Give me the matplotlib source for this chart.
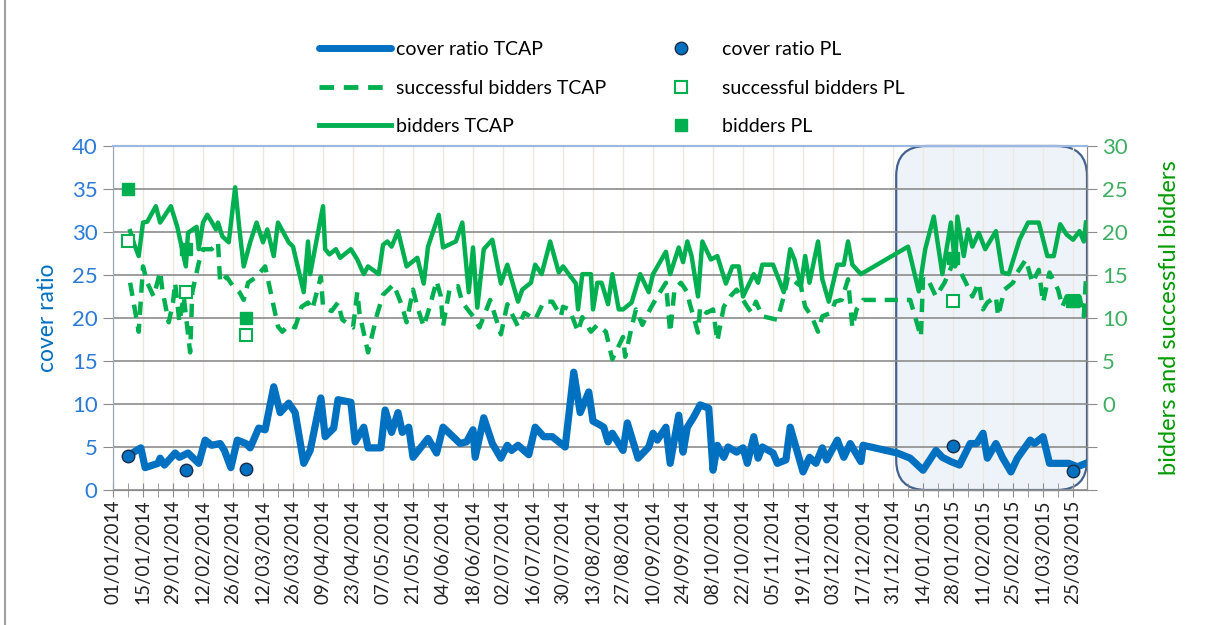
import numpy as np
import matplotlib
matplotlib.use('Agg')
from matplotlib import pyplot as plt
from matplotlib import dates as mdates
from matplotlib.lines import Line2D
from matplotlib.patches import FancyBboxPatch
from matplotlib.transforms import IdentityTransform

plt.rcParams['font.family'] = ['Lato', 'DejaVu Sans']

start = np.datetime64('2014-01-01')

# cover ratio TCAP (days after 01/01/2014, value)
cr_days = [9, 13, 15, 21, 22, 24, 29, 31, 35, 40, 43, 46, 50, 52, 55, 58, 62, 64, 68, 71,
           75, 78, 82, 85, 89, 92, 97, 99, 103, 105, 111, 113, 117, 119, 125, 127, 130, 133, 135, 138,
           140, 147, 151, 154, 162, 165, 168, 169, 173, 177, 181, 184, 186, 189, 194, 197, 201, 205, 211, 215,
           218, 222, 224, 227, 229, 231, 233, 238, 240, 245, 250, 252, 254, 258, 260, 264, 266, 268, 271, 274,
           278, 280, 282, 285, 287, 291, 294, 296, 299, 301, 303, 308, 310, 314, 316, 322, 325, 328, 331, 333,
           338, 341, 344, 349, 350, 366, 372, 378, 384, 387, 391, 395, 400, 403, 406, 408, 412, 415, 419, 422,
           428, 430, 434, 437, 441, 446, 450, 454]
cr_vals = [4.3, 4.9, 2.6, 3.1, 3.7, 2.9, 4.3, 3.8, 4.3, 3.1, 5.8, 5.2, 5.4, 4.6, 2.6, 5.8, 5.4, 4.9, 7.2, 7.0,
           12.0, 9.0, 10.1, 9.0, 3.1, 4.6, 10.7, 6.2, 7.2, 10.5, 10.2, 5.6, 7.3, 4.9, 4.9, 9.3, 6.7, 9.0, 6.7, 7.3,
           3.8, 6.0, 4.3, 7.3, 5.4, 5.6, 7.0, 3.8, 8.4, 5.4, 3.7, 5.2, 4.6, 5.2, 4.1, 7.3, 6.2, 6.2, 5.0, 13.7,
           9.0, 11.4, 8.0, 7.6, 7.3, 5.6, 6.6, 4.6, 7.8, 3.7, 5.0, 6.6, 5.8, 7.3, 3.1, 8.7, 4.4, 7.3, 8.5, 9.9,
           9.5, 2.3, 5.2, 3.8, 5.0, 4.4, 4.9, 3.1, 6.2, 3.7, 5.0, 4.3, 3.1, 3.5, 7.3, 2.1, 3.8, 3.1, 4.9, 3.5,
           5.8, 3.8, 5.4, 3.3, 5.2, 4.3, 3.7, 2.3, 4.6, 3.8, 3.3, 2.9, 5.4, 5.4, 6.6, 3.7, 5.4, 3.8, 2.1, 3.7,
           5.8, 5.4, 6.2, 3.1, 3.1, 3.1, 2.7, 3.1]

# bidders TCAP
bid_days = [8, 10, 12, 14, 16, 20, 22, 27, 30, 32, 34, 35, 39, 40, 42, 44, 46, 48, 49, 51,
            54, 57, 59, 61, 64, 67, 70, 72, 75, 77, 82, 84, 89, 91, 92, 98, 99, 101, 104, 106,
            111, 114, 117, 119, 124, 126, 128, 130, 133, 137, 140, 142, 145, 147, 152, 154, 160, 163, 166, 168,
            170, 173, 177, 181, 184, 189, 191, 195, 197, 200, 204, 208, 210, 216, 217, 219, 223, 224, 226, 228,
            231, 233, 236, 238, 242, 246, 250, 252, 258, 260, 264, 266, 268, 270, 273, 275, 279, 282, 286, 289,
            292, 294, 299, 301, 303, 308, 313, 316, 318, 321, 323, 325, 329, 331, 334, 338, 341, 343, 345, 349,
            371, 376, 379, 383, 387, 391, 393, 394, 397, 399, 401, 404, 407, 412, 415, 418, 423, 427, 432, 436,
            439, 442, 445, 448, 451, 453, 454]
bid_vals = [20.1, 18.5, 17.2, 21.1, 21.2, 23.0, 21.1, 23.0, 20.6, 18.3, 16.0, 19.9, 20.6, 18.0, 21.1, 22.0, 21.2, 20.3, 21.1, 19.5,
            18.8, 25.2, 20.3, 16.0, 18.8, 21.1, 18.8, 20.3, 17.2, 21.1, 18.8, 18.3, 13.0, 18.9, 15.1, 23.0, 18.0, 17.4, 18.0, 17.0,
            18.0, 16.8, 15.1, 16.0, 15.1, 18.5, 18.9, 18.3, 20.1, 16.0, 16.6, 17.0, 14.0, 18.3, 22.0, 18.2, 18.9, 21.1, 13.0, 18.2,
            11.2, 18.0, 19.1, 14.0, 16.2, 11.9, 13.3, 14.1, 16.2, 15.1, 18.9, 15.3, 16.0, 14.0, 11.0, 15.1, 15.1, 11.0, 14.1, 14.1,
            11.6, 15.1, 11.0, 11.0, 11.8, 15.1, 13.0, 15.1, 17.7, 15.1, 18.2, 16.5, 18.9, 17.2, 12.5, 18.9, 16.8, 17.2, 14.0, 16.0,
            16.0, 12.5, 15.1, 14.1, 16.2, 16.2, 13.0, 18.0, 16.8, 13.7, 17.2, 14.1, 18.9, 14.5, 11.9, 16.2, 16.2, 18.9, 16.2, 15.1,
            18.3, 13.1, 18.0, 21.8, 15.1, 21.1, 16.0, 21.8, 17.2, 20.3, 18.3, 19.9, 18.0, 20.1, 15.3, 15.1, 19.1, 21.1, 21.1, 17.2,
            17.2, 20.9, 19.7, 19.1, 20.1, 18.9, 21.1]

# successful bidders TCAP
suc_days = [8, 12, 14, 16, 19, 22, 23, 26, 28, 29, 31, 33, 36, 37, 40, 42, 46, 49, 50, 53,
            56, 59, 61, 63, 67, 71, 77, 79, 82, 85, 88, 91, 93, 97, 98, 102, 105, 107, 112, 114,
            115, 119, 123, 126, 131, 135, 137, 140, 142, 145, 148, 151, 153, 154, 157, 161, 163, 168, 171, 176,
            181, 184, 189, 192, 197, 201, 205, 209, 210, 213, 217, 219, 223, 226, 230, 233, 238, 239, 241, 244,
            247, 251, 254, 258, 260, 262, 265, 268, 269, 273, 274, 277, 280, 282, 285, 288, 291, 296, 298, 300,
            303, 310, 313, 315, 321, 323, 326, 329, 331, 335, 337, 340, 343, 345, 347, 350, 372, 375, 377, 378,
            381, 384, 386, 388, 392, 395, 398, 401, 404, 406, 408, 412, 413, 416, 420, 422, 426, 429, 432, 434,
            437, 441, 443, 445, 448, 451, 453, 454]
suc_vals = [14.1, 8.4, 16.0, 14.1, 12.5, 15.4, 13.3, 9.5, 11.8, 14.1, 9.5, 12.5, 6.0, 13.0, 16.4, 18.0, 18.0, 18.8, 14.1, 14.8,
            13.7, 13.0, 12.1, 14.1, 14.8, 16.0, 9.0, 8.4, 9.2, 8.9, 11.3, 11.8, 11.0, 14.8, 11.3, 10.8, 11.8, 9.8, 8.9, 13.0,
            10.6, 6.0, 10.2, 12.7, 13.9, 11.3, 9.5, 13.3, 11.3, 9.0, 11.5, 14.3, 12.5, 9.0, 13.3, 13.7, 11.8, 10.2, 8.9, 12.1,
            8.1, 11.6, 9.0, 10.6, 9.8, 11.9, 11.9, 10.2, 11.3, 11.0, 8.4, 10.1, 8.4, 9.2, 8.4, 5.2, 7.8, 5.5, 7.8, 11.0,
            9.2, 11.2, 12.5, 14.1, 8.3, 13.3, 14.1, 13.0, 11.8, 8.3, 11.3, 10.6, 11.0, 7.3, 11.3, 12.5, 13.3, 11.3, 10.6, 11.9,
            10.2, 9.8, 12.5, 14.8, 13.7, 11.3, 10.2, 8.4, 10.2, 10.6, 11.9, 12.1, 14.5, 8.9, 11.0, 12.1, 12.1, 9.5, 7.8, 14.8,
            14.1, 12.5, 13.3, 14.1, 16.4, 15.6, 14.1, 12.5, 14.1, 11.0, 11.8, 12.5, 10.2, 13.3, 14.1, 15.3, 16.8, 14.1, 15.6, 11.8,
            15.3, 13.3, 11.3, 12.5, 12.1, 12.5, 10.2, 14.5]

# PL auctions
pl_days = [7, 34, 62, 392, 448]
pl_cover = [3.9, 2.3, 2.4, 5.1, 2.2]
pl_success = [19, 13, 8, 12, 12]
pl_bidders = [25, 18, 10, 17, 12]


def to_dates(days):
    return start + np.array(days).astype('timedelta64[D]')


blue = '#0070c0'
green = '#00b050'

fig = plt.figure(figsize=(12.11, 6.25), dpi=100)
ax = fig.add_axes([113 / 1211, 1 - 490 / 625, 974 / 1211, 344 / 625])
ax2 = ax.twinx()
ax.patch.set_visible(False)

ax.set_xlim(start, start + np.timedelta64(454, 'D') + np.timedelta64(12, 'h'))
ax.set_ylim(0, 40)
ax2.set_ylim(-10, 30)

# shaded area over 2015
fig.canvas.draw()
x0 = ax.transData.transform((mdates.date2num(np.datetime64('2015-01-01')), 0))[0] + 1
bb = ax.get_window_extent()
box = FancyBboxPatch((x0, bb.y0), bb.x1 - x0, bb.height,
                     boxstyle='round,pad=0,rounding_size=30', transform=IdentityTransform(),
                     facecolor='#eef3fa', edgecolor='#44628f', linewidth=1.6, zorder=0.4, clip_on=False)
ax.add_patch(box)

ax.set_axisbelow(True)
ax.grid(axis='y', color='#8c8c8c', linewidth=1.2)
ax.grid(axis='x', color='#ebe8dc', linewidth=1.0)

ax.plot(to_dates(cr_days), cr_vals, color=blue, linewidth=5.2, solid_joinstyle='round', zorder=3)
ax.plot(to_dates(pl_days), pl_cover, linestyle='none', marker='o', markersize=9,
        markerfacecolor=blue, markeredgecolor='#1c2e4a', markeredgewidth=1, zorder=4)

ax2.plot(to_dates(bid_days), bid_vals, color=green, linewidth=3.2, zorder=3)
ax2.plot(to_dates(suc_days), suc_vals, color=green, linewidth=3.2, dashes=(3, 2), zorder=3)
ax2.plot(to_dates(pl_days), pl_success, linestyle='none', marker='s', markersize=9,
         markerfacecolor='white', markeredgecolor=green, markeredgewidth=1.5, zorder=4)
ax2.plot(to_dates(pl_days), pl_bidders, linestyle='none', marker='s', markersize=9,
         markerfacecolor=green, markeredgecolor=green, zorder=4)

# axes formatting
ax.set_xticks(to_dates(np.arange(0, 449, 14)))
ax.set_xticks(to_dates(np.arange(7, 455, 14)), minor=True)
ax.xaxis.set_major_formatter(mdates.DateFormatter('%d/%m/%Y'))
ax.tick_params(axis='x', which='both', direction='inout', length=10, color='#8c8c8c',
               labelrotation=90, labelsize=13.5, labelcolor='#222222', pad=2)
ax.set_yticks(np.arange(0, 41, 5))
ax.tick_params(axis='y', length=7, color='#8c8c8c', labelsize=16, labelcolor='#2b7bd6', pad=4)
ax2.set_yticks(np.arange(-10, 31, 5))
ax2.set_yticklabels(['', ''] + [str(v) for v in range(0, 31, 5)])
ax2.tick_params(axis='y', length=7, color='#8c8c8c', labelsize=16, labelcolor='#3fae62', pad=4)

for a in (ax, ax2):
    a.spines['left'].set_color('#9aa5b8')
    a.spines['bottom'].set_color('#8c8c8c')
    a.spines['right'].set_color('#8c8c8c')
    a.spines['top'].set_color('#9cb8e0')
    a.spines['top'].set_linewidth(1.5)

ax.set_ylabel('cover ratio', color=blue, fontsize=16.5, labelpad=10)
ax2.set_ylabel('bidders and successful bidders', color='#009a00', fontsize=17, labelpad=22)

handles = [
    Line2D([], [], color=blue, linewidth=5, solid_capstyle='round'),
    Line2D([], [], color=green, linewidth=3.5, dashes=(3, 2)),
    Line2D([], [], color=green, linewidth=3.5),
    Line2D([], [], linestyle='none', marker='o', markersize=9, markerfacecolor=blue, markeredgecolor='#1c2e4a'),
    Line2D([], [], linestyle='none', marker='s', markersize=8, markerfacecolor='white',
           markeredgecolor=green, markeredgewidth=1.5),
    Line2D([], [], linestyle='none', marker='s', markersize=8, markerfacecolor=green, markeredgecolor=green),
]
labels = ['cover ratio TCAP', 'successful bidders TCAP', 'bidders TCAP',
          'cover ratio PL', 'successful bidders PL', 'bidders PL']
fig.legend(handles, labels, loc='center', bbox_to_anchor=(0.505, 0.859), ncol=2, frameon=False,
           fontsize=14, handlelength=3.7, handletextpad=0.25, columnspacing=2.0, labelspacing=1.1)

# chart frame edge on the left
fig.add_artist(Line2D([5 / 1211, 5 / 1211], [0, 1], color='#a0a0a0', linewidth=1.5))

fig.savefig('out.png', dpi=100, facecolor='white')
